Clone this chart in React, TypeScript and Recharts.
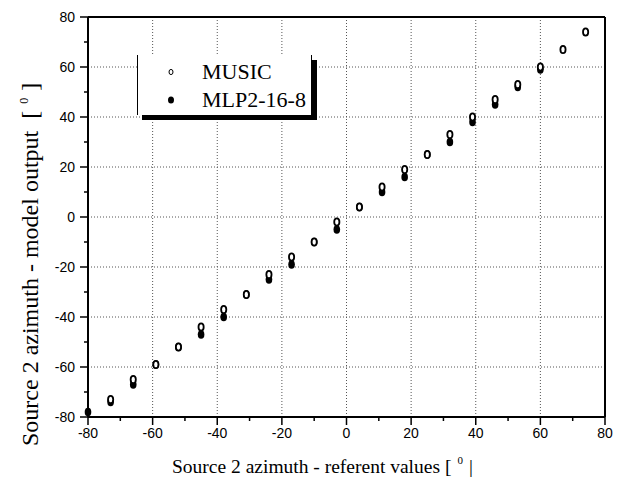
import React from "react";
import { ScatterChart, Scatter, XAxis, YAxis, ReferenceLine } from "recharts";

// referent azimuths (deg) on the x axis
const azimuths = [
  -80, -73, -66, -59, -52, -45, -38, -31, -24, -17, -10, -3, 4, 11, 18, 25, 32,
  39, 46, 53, 60, 67, 74,
];
const musicOut: (number | null)[] = [
  null, -73, -65, -59, -52, -44, -37, -31, -23, -16, -10, -2, 4, 12, 19, 25, 33,
  40, 47, 53, 60, 67, 74,
];
const mlpOut: (number | null)[] = [
  -78, -74, -67, -59, -52, -47, -40, -31, -25, -19, -10, -5, 4, 10, 16, 25, 30,
  38, 45, 52, 59, null, null,
];

const axisTicks = [-80, -70, -60, -50, -40, -30, -20, -10, 0, 10, 20, 30, 40, 50, 60, 70, 80];
const gridValues = [-60, -40, -20, 0, 20, 40, 60];

const toPoints = (vals: (number | null)[]) =>
  azimuths
    .map((x, i) => ({ x, y: vals[i] }))
    .filter((p) => p.y !== null);

const musicData = toPoints(musicOut);
const mlpData = toPoints(mlpOut);

const SANS = "'Liberation Sans', Arial, sans-serif";
const SERIF = "'Liberation Serif', 'Times New Roman', serif";

const isMajor = (v: number) => v % 20 === 0;

const XTick = (props: any) => {
  const { x, y, payload } = props;
  const v = payload.value;
  const len = isMajor(v) ? 8 : 4;
  return (
    <g>
      <line x1={x} y1={y} x2={x} y2={y + len} stroke="#000" strokeWidth={1.5} />
      {isMajor(v) && (
        <text x={x} y={y + 21} textAnchor="middle" fontSize={14} style={{ fontFamily: SANS }} fill="#000">
          {v}
        </text>
      )}
    </g>
  );
};

const YTick = (props: any) => {
  const { x, y, payload } = props;
  const v = payload.value;
  const len = isMajor(v) ? 8 : 4;
  return (
    <g>
      <line x1={x} y1={y} x2={x - len} y2={y} stroke="#000" strokeWidth={1.5} />
      {isMajor(v) && (
        <text x={x - 13} y={y + 5} textAnchor="end" fontSize={14} style={{ fontFamily: SANS }} fill="#000">
          {v}
        </text>
      )}
    </g>
  );
};

const OpenDot = (props: any) => {
  const { cx, cy } = props;
  if (cx == null || cy == null) return null;
  return <ellipse cx={cx} cy={cy} rx={2.6} ry={3.6} fill="#fff" stroke="#000" strokeWidth={1.8} />;
};

const FilledDot = (props: any) => {
  const { cx, cy } = props;
  if (cx == null || cy == null) return null;
  return <ellipse cx={cx} cy={cy} rx={3.3} ry={4.3} fill="#000" />;
};

const XTitle = () => (
  <text x={172} y={473} fontSize={19.5} style={{ fontFamily: SERIF }} fill="#000">
    <tspan fill="#000">Source 2 azimuth - referent values [</tspan>
    <tspan fill="#000" fontSize={11} dx={6} dy={-9}>0</tspan>
    <tspan fill="#000" dx={6} dy={9}>|</tspan>
  </text>
);

const YTitle = () => (
  <text
    x={0}
    y={0}
    transform="translate(38, 446) rotate(-90)"
    fontSize={24}
    style={{ fontFamily: SERIF }}
    fill="#000"
  >
    <tspan fill="#000">Source 2 azimuth - model output</tspan>
    <tspan fill="#000" dx={12}>[</tspan>
    <tspan fill="#000" fontSize={12} dx={7} dy={-10}>0</tspan>
    <tspan fill="#000" dx={7} dy={10}>]</tspan>
  </text>
);

const LegendBox = () => (
  <div
    style={{
      position: "absolute",
      left: 137,
      top: 55,
      width: 173,
      height: 60,
      background: "#fff",
      borderLeft: "1px solid #000",
      borderRight: "1px solid #000",
      boxShadow: "5px 5px 0 0 #000",
      fontFamily: SERIF,
      fontSize: 22,
      color: "#000",
    }}
  >
    <svg width={12} height={12} style={{ position: "absolute", left: 27, top: 11 }}>
      <ellipse cx={6} cy={6} rx={2} ry={2.6} fill="#fff" stroke="#000" strokeWidth={1} />
    </svg>
    <svg width={12} height={12} style={{ position: "absolute", left: 27, top: 39 }}>
      <ellipse cx={6} cy={6} rx={3} ry={3.6} fill="#000" />
    </svg>
    <div style={{ position: "absolute", left: 64, top: 4, lineHeight: "26px" }}>MUSIC</div>
    <div style={{ position: "absolute", left: 64, top: 32, lineHeight: "26px" }}>MLP2-16-8</div>
  </div>
);

export default function App() {
  return (
    <div style={{ position: "absolute", left: 0, top: 0, width: 628, height: 492, background: "#fff" }}>
      <ScatterChart width={628} height={492} margin={{ top: 17, right: 23, bottom: 0, left: 0 }}>
        <XAxis
          type="number"
          dataKey="x"
          domain={[-80, 80]}
          ticks={axisTicks}
          interval={0}
          tickSize={0}
          tickMargin={0}
          tickLine={false}
          tick={<XTick />}
          axisLine={{ stroke: "#000", strokeWidth: 2 }}
          height={75}
          label={<XTitle />}
        />
        <YAxis
          type="number"
          dataKey="y"
          domain={[-80, 80]}
          ticks={axisTicks}
          interval={0}
          tickSize={0}
          tickMargin={0}
          tickLine={false}
          tick={<YTick />}
          axisLine={{ stroke: "#000", strokeWidth: 2 }}
          width={88}
          label={<YTitle />}
        />
        {gridValues.map((v) => (
          <ReferenceLine key={`gx${v}`} x={v} stroke="#555" strokeWidth={1} strokeDasharray="1 2" />
        ))}
        {gridValues.map((v) => (
          <ReferenceLine key={`gy${v}`} y={v} stroke="#555" strokeWidth={1} strokeDasharray="1 2" />
        ))}
        <ReferenceLine y={80} stroke="#000" strokeWidth={2} />
        <ReferenceLine x={80} stroke="#000" strokeWidth={2} />
        <Scatter name="MLP2-16-8" data={mlpData} shape={FilledDot} isAnimationActive={false} />
        <Scatter name="MUSIC" data={musicData} shape={OpenDot} isAnimationActive={false} />
      </ScatterChart>
      <LegendBox />
    </div>
  );
}
